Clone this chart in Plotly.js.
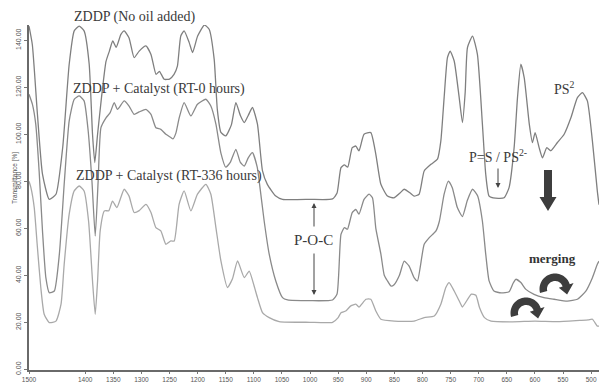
<!DOCTYPE html>
<html>
<head>
<meta charset="utf-8">
<script src="https://cdn.plot.ly/plotly-3.0.1.min.js"></script>
<style>
  html, body { margin: 0; padding: 0; background: #fff; }
  #chart { width: 600px; height: 384px; }
</style>
</head>
<body>
<div id="chart"></div>
<script>
// FTIR spectra of ZDDP: wavenumber (cm-1) vs transmittance (%)
const noOilWavenumber = [1500,1494,1485,1476,1464,1452,1440,1428.5,1419.6,1410.7,1402,1393,1387,1383,1378,1371,1363,1357,1351,1345,1336.5,1330.7,1322,1313,1304,1292,1283,1274,1268,1259.5,1250,1242,1236,1230,1224,1215,1209,1200,1188,1179.5,1170.6,1165,1158.6,1150,1140,1132,1124,1117,1110,1102.5,1093.6,1084.6,1076,1061,1049,1000,960,952,945,939,933,925,918.6,913,904,892,883,874,862.3,850.5,840,832.6,822,815,806,797,785,773.4,767.4,761.5,755.6,750.8,743.6,734.7,728.9,724,720,711,702.3,693.4,687.5,681.5,670,654.8,646,637,631,625,619,610,604.5,599.6,592.5,586.6,578.8,571.7,560,548,536,524.4,515.5,506.7,497.7,489,486];
const noOilTransmittance = [146,138,108.5,83,72.3,74.5,94.5,129.8,144,146,144,130,100,88,100,115.7,131,135.4,139.7,137,142.5,144,141,132.6,135.4,137.6,134,125.5,126.8,123.4,123.5,125.5,129,141.8,144,139,134.8,141.8,146.5,144.7,132,110.6,100.8,99.3,104,113.5,108,105,108,111.4,104.3,84.4,78.7,73.7,72.3,72.3,72.5,75,85.8,87,86,94.3,95,92.9,100,100.7,91.5,78.7,73.7,73,75,76.6,75,73.7,74.5,84.4,87.2,89.4,97.1,115.6,132.6,135.4,131.2,115.6,105,118,136.9,141.8,134,104.3,83,73.7,72.8,73,77.3,94.3,115.6,129.8,124,104.3,96.5,100.7,94.3,90,94.3,93,96.5,100,107,115.6,117.7,114.2,97.1,75.9,70];

const rt0Wavenumber = [1500,1494,1488,1482,1476,1470,1464,1455,1446,1437,1428.5,1419.6,1410.7,1402,1394.7,1388,1382.2,1377,1372,1363,1355.6,1348.4,1342.6,1330.7,1322,1313,1304,1292,1283,1274.3,1265.5,1256.5,1247.6,1244,1238.7,1232.8,1224,1212,1200.3,1185.3,1176.5,1167.5,1158.6,1150,1142,1132,1124,1117,1110,1102.5,1094,1090.5,1081.6,1072.7,1061,1049,1040,1000,960,952,945,939,933.5,925,918.6,913,904,895,889,883,874,868,862.3,856,850.5,841,832.6,824,815,809,797,788,776,770,761.5,754,747,738,729,720,711,702,693.4,687.5,681.5,672.8,660,646,639,634,625,616,601.6,584,566,542.4,524.4,509.4,497.7,489,486];
const rt0Transmittance = [117,112.8,104.3,84.4,58.9,39,32.6,33.3,49,80.1,105.7,114.9,116.3,114.2,101.4,80,56.7,80,102.8,107,109.2,113.5,110.6,114.2,112,108.5,109.5,110.6,108.5,102.8,102.1,100,98.6,98,100.5,107,113.5,107.8,112.8,114.9,112,104.3,92,86,88,93.6,88,86.5,90,92.2,86,80.1,63,49,37.6,30.5,29.5,29.2,29.5,32,57.4,60.3,59.6,66.7,68,66,72.3,74.5,73,60,49,40,37.6,35.4,36,40,46,44,39,37.6,53.2,56,58.9,63,74.5,80.1,77.3,68.8,65,72,76.6,73.8,63,49,37.6,33.3,32.5,33,36.5,38.3,36.9,34,31.9,30.5,29.8,29,29.8,33.3,39,44.7,46];

const rt336Wavenumber = [1500,1496.6,1490.7,1485,1479,1473,1464,1452,1443,1437.4,1428.5,1419.6,1410.7,1402,1394,1387,1382.2,1378,1373.4,1366,1358,1351.5,1343.6,1330.7,1322,1313,1304,1292,1283,1274.3,1265.5,1256.5,1247.6,1241.7,1233,1224,1212,1200.3,1185.3,1176.5,1167.5,1158.6,1147,1138,1129,1117,1108.3,1099,1093.6,1084.6,1072.7,1055,1000,960,950,945,936.5,927.5,918.6,913,900.5,892,883,874,850,815,797,779,767.4,758.5,752.6,743.6,731.8,729,713,705,698.6,689.7,678,640,600,560,520,505,497.7,489,486];
const rt336Transmittance = [80,77.3,68.8,51.8,34.8,23.4,19.9,20.5,27.7,44.7,66,75.9,78,75.9,63,37.6,23.4,37.6,58.9,67.4,67.5,71.6,68.8,76.6,73.7,66.7,67.5,70.2,66.7,60.3,58.9,53.2,54.6,54.6,70.2,75.9,67.4,74.5,78.7,74.5,60.3,46.1,34.8,38.5,46.1,39,41.8,35,30.5,24.1,22,20.3,20,20,22,24.1,24.8,27,27.7,26.5,29.8,29.8,24.8,21.3,20.5,20.5,22,22.7,27.7,34.8,36.9,33.3,27.7,26.5,32,31.5,26.3,22,20.5,20.2,20.5,20.3,20.8,21,21.3,18.4,18.4];

const xTickValues = [1500,1400,1350,1300,1250,1200,1150,1100,1050,1000,950,900,850,800,750,700,650,600,550,500];
const yTickValues = [0,20,40,60,80,100,120,140];

const seriesNames = ['ZDDP (No oil added)', 'ZDDP + Catalyst (RT-0 hours)', 'ZDDP + Catalyst (RT-336 hours)'];
const seriesColors = ['#7f7f7f', '#8a8a8a', '#a9a9a9'];

// page geometry
const FIG_W = 600, FIG_H = 384;
const M = { l: 29, r: 1, t: 25, b: 14 };
const PW = FIG_W - M.l - M.r, PH = FIG_H - M.t - M.b;
const px = (x) => (x - M.l) / PW;
const py = (y) => 1 - (y - M.t) / PH;

function traceOf(xs, ys, i) {
  return {
    type: 'scatter', mode: 'lines', x: xs, y: ys, name: seriesNames[i],
    line: { color: seriesColors[i], width: 1.3, shape: 'spline', smoothing: 0.5 },
    hoverinfo: 'skip'
  };
}

const data = [
  traceOf(noOilWavenumber, noOilTransmittance, 0),
  traceOf(rt0Wavenumber, rt0Transmittance, 1),
  traceOf(rt336Wavenumber, rt336Transmittance, 2)
];

// thick clockwise curved arrow (top half-annulus with a head on the right end)
function curvedArrowPath(cx, cy, R, r) {
  const pts = [];
  const rad = (d) => d * Math.PI / 180;
  const start = 195, end = 18;
  const pt = (rr, a) => [cx + rr * Math.cos(rad(a)), cy - rr * Math.sin(rad(a))];
  for (let a = start; a >= end; a -= 5) pts.push(pt(R, a));
  pts.push(pt(R, end));
  pts.push(pt(R + 4, end));
  pts.push(pt((R + r) / 2 + 1.5, end - 42));
  pts.push(pt(Math.max(r - 4, 1), end));
  pts.push(pt(r, end));
  for (let a = end; a <= start; a += 5) pts.push(pt(r, a));
  pts.push(pt(r, start));
  return 'M ' + pts.map(p => px(p[0]).toFixed(5) + ',' + py(p[1]).toFixed(5)).join(' L ') + ' Z';
}

function blockArrowDownPath(cx, top, shaftW, headW, headTop, tip) {
  const p = [
    [cx - shaftW / 2, top], [cx + shaftW / 2, top], [cx + shaftW / 2, headTop],
    [cx + headW / 2, headTop], [cx, tip], [cx - headW / 2, headTop], [cx - shaftW / 2, headTop]
  ];
  return 'M ' + p.map(q => px(q[0]).toFixed(5) + ',' + py(q[1]).toFixed(5)).join(' L ') + ' Z';
}

const arrowInk = '#3d3d3d';
const shapes = [
  { type: 'path', xref: 'paper', yref: 'paper', path: blockArrowDownPath(548, 170, 8, 17, 197, 211), fillcolor: arrowInk, line: { width: 0 } },
  { type: 'path', xref: 'paper', yref: 'paper', path: curvedArrowPath(555, 289, 15.5, 8), fillcolor: arrowInk, line: { width: 0 } },
  { type: 'path', xref: 'paper', yref: 'paper', path: curvedArrowPath(526, 313, 15.5, 8), fillcolor: arrowInk, line: { width: 0 } }
];

const serif = 'Liberation Serif, Times New Roman, serif';
const textInk = '#3a3a3a';
function label(text, x, y, size, extra) {
  return Object.assign({
    text: text, xref: 'paper', yref: 'paper', x: px(x), y: py(y),
    xanchor: 'left', yanchor: 'middle', showarrow: false,
    font: { family: serif, size: size, color: textInk }
  }, extra || {});
}
function arrow(xHead, yHead, ax, ay) {
  return {
    text: '', xref: 'paper', yref: 'paper', x: px(xHead), y: py(yHead),
    ax: ax, ay: ay, showarrow: true, arrowhead: 2, arrowsize: 1, arrowwidth: 1,
    arrowcolor: '#444', standoff: 0, startstandoff: 0
  };
}

const annotations = [
  label(seriesNames[0], 72, 17, 14),
  label(seriesNames[1], 71, 89, 14),
  label(seriesNames[2], 74, 176, 14),
  label('P-O-C', 313, 240, 15, { xanchor: 'center' }),
  label('PS<sup>2</sup>', 552, 88, 14),
  label('P=S / PS<sup>2-</sup>', 467, 156, 14),
  label('merging', 552, 258, 13, { xanchor: 'center', font: { family: serif, size: 13, color: '#333', weight: 'bold' } }),
  arrow(314, 203, 0, 25),
  arrow(314, 295, 0, -43),
  arrow(498, 188, 0, -21),
  {
    text: 'Transmittance [%]', xref: 'paper', yref: 'paper', x: px(15), y: py(178),
    xanchor: 'center', yanchor: 'middle', textangle: -90, showarrow: false,
    font: { family: 'Liberation Sans, Arial, sans-serif', size: 6.5, color: '#555' }
  }
];

const layout = {
  width: FIG_W, height: FIG_H,
  margin: M,
  paper_bgcolor: '#ffffff', plot_bgcolor: '#ffffff',
  showlegend: false,
  xaxis: {
    range: [1500, 486], tickmode: 'array', tickvals: xTickValues,
    ticktext: xTickValues.map(String),
    ticks: 'outside', ticklen: 2, tickwidth: 1, tickcolor: '#777',
    showline: true, linecolor: '#6a6a6a', linewidth: 2,
    showgrid: false, zeroline: false,
    tickfont: { family: 'Liberation Sans, Arial, sans-serif', size: 6.5, color: '#555' }
  },
  yaxis: {
    range: [-0.3, 146.5], tickmode: 'array', tickvals: yTickValues,
    tickformat: '.2f', tickangle: -90,
    ticks: 'outside', ticklen: 3, tickwidth: 1, tickcolor: '#777',
    showline: true, linecolor: '#6a6a6a', linewidth: 2,
    showgrid: false, zeroline: false,
    tickfont: { family: 'Liberation Sans, Arial, sans-serif', size: 7, color: '#555' }
  },
  shapes: shapes,
  annotations: annotations
};

Plotly.newPlot('chart', data, layout, { staticPlot: true, displayModeBar: false });
</script>
</body>
</html>
